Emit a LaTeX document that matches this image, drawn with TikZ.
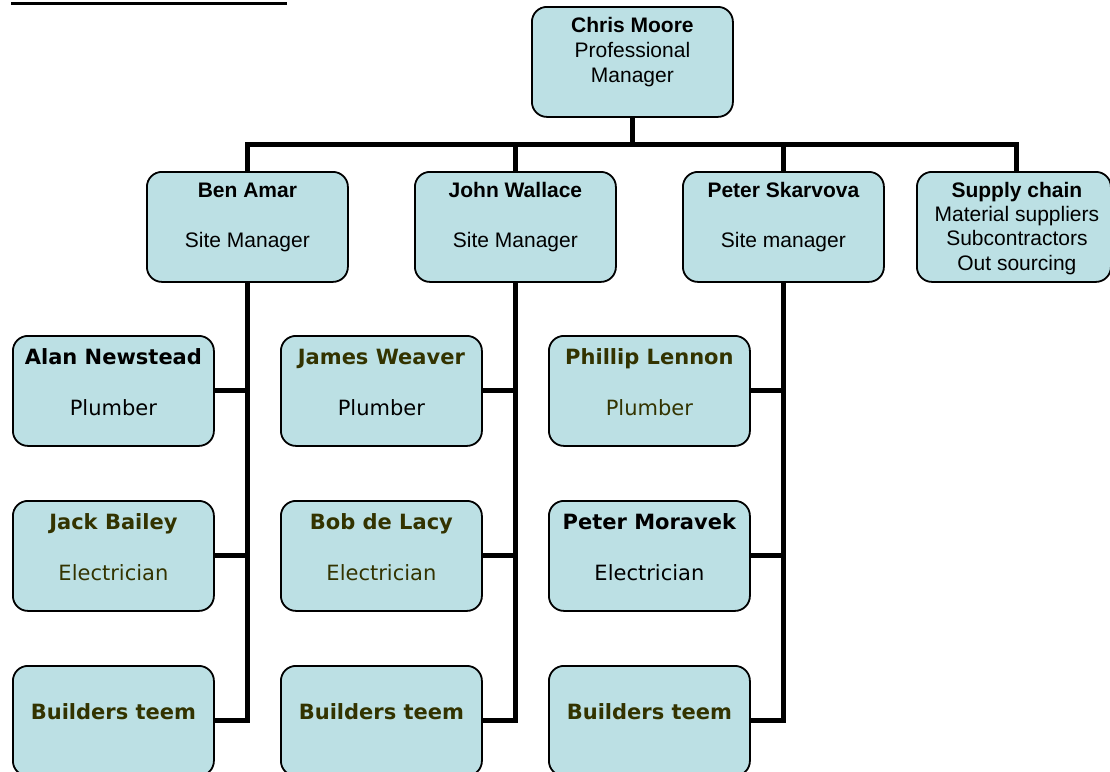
\documentclass[tikz,border=0pt]{standalone}
\usepackage{fontspec}
\newfontfamily\arialf{Liberation Sans}
\newfontfamily\verdf{DejaVu Sans}
\definecolor{boxfill}{RGB}{188,224,228}
\definecolor{oliveT}{RGB}{51,51,0}
\begin{document}
\begin{tikzpicture}[x=1pt,y=-1pt,
  box/.style={draw=black, line width=1.8pt, rounded corners=15pt, fill=boxfill,
    minimum width=201pt, minimum height=110pt, anchor=north west, inner sep=0pt},
  conn/.style={line width=5pt, line join=miter},
  aB/.style={anchor=base, inner sep=0pt, font=\arialf\bfseries\fontsize{21}{25}\selectfont},
  aR/.style={anchor=base, inner sep=0pt, font=\arialf\fontsize{21}{25}\selectfont},
  vB/.style={anchor=base, inner sep=0pt, font=\verdf\bfseries\fontsize{21}{25}\selectfont},
  vR/.style={anchor=base, inner sep=0pt, font=\verdf\fontsize{21}{25}\selectfont},
]
\useasboundingbox (0,0) rectangle (1110,771);
\clip (0,0) rectangle (1110,771);

% underline of cut-off title
\coordinate (ulA) at (11,3);
\coordinate (ulB) at (287,3);
\draw[line width=3pt] (ulA) -- (ulB);

% level 1
\node[box] (chris) at (531,6) {};
\node[aB] (chrisT1) at ([yshift=-26pt]chris.north) {Chris Moore};
\node[aR] (chrisT2) at ([yshift=-51pt]chris.north) {Professional};
\node[aR] (chrisT3) at ([yshift=-76pt]chris.north) {Manager};

% level 2
\node[box] (ben) at (146,171) {};
\node[aB] (benT1) at ([yshift=-26pt]ben.north) {Ben Amar};
\node[aR] (benT2) at ([yshift=-76pt]ben.north) {Site Manager};

\node[box] (john) at (414,171) {};
\node[aB] (johnT1) at ([yshift=-26pt]john.north) {John Wallace};
\node[aR] (johnT2) at ([yshift=-76pt]john.north) {Site Manager};

\node[box] (peter) at (682,171) {};
\node[aB] (peterT1) at ([yshift=-26pt]peter.north) {Peter Skarvova};
\node[aR] (peterT2) at ([yshift=-76pt]peter.north) {Site manager};

\node[box, minimum width=194pt] (supply) at (916,171) {};
\node[aB] (supT1) at ([xshift=3pt,yshift=-26pt]supply.north) {Supply chain};
\node[aR] (supT2) at ([xshift=3pt,yshift=-50pt]supply.north) {Material suppliers};
\node[aR] (supT3) at ([xshift=3pt,yshift=-74pt]supply.north) {Subcontractors};
\node[aR] (supT4) at ([xshift=3pt,yshift=-99pt]supply.north) {Out sourcing};

% level 3, column 1
\node[box] (benA) at (12,335) {};
\node[vB] (benAT1) at ([yshift=-29pt]benA.north) {Alan Newstead};
\node[vR] (benAT2) at ([yshift=-80pt]benA.north) {Plumber};
\node[box] (benB) at (12,500) {};
\node[vB, text=oliveT] (benBT1) at ([yshift=-29pt]benB.north) {Jack Bailey};
\node[vR, text=oliveT] (benBT2) at ([yshift=-80pt]benB.north) {Electrician};
\node[box] (benC) at (12,665) {};
\node[vB, text=oliveT] (benCT1) at ([yshift=-54pt]benC.north) {Builders teem};

% level 3, column 2
\node[box] (johnA) at (280,335) {};
\node[vB, text=oliveT] (johnAT1) at ([yshift=-29pt]johnA.north) {James Weaver};
\node[vR] (johnAT2) at ([yshift=-80pt]johnA.north) {Plumber};
\node[box] (johnB) at (280,500) {};
\node[vB, text=oliveT] (johnBT1) at ([yshift=-29pt]johnB.north) {Bob de Lacy};
\node[vR, text=oliveT] (johnBT2) at ([yshift=-80pt]johnB.north) {Electrician};
\node[box] (johnC) at (280,665) {};
\node[vB, text=oliveT] (johnCT1) at ([yshift=-54pt]johnC.north) {Builders teem};

% level 3, column 3
\node[box] (peterA) at (548,335) {};
\node[vB, text=oliveT] (peterAT1) at ([yshift=-29pt]peterA.north) {Phillip Lennon};
\node[vR, text=oliveT] (peterAT2) at ([yshift=-80pt]peterA.north) {Plumber};
\node[box] (peterB) at (548,500) {};
\node[vB] (peterBT1) at ([yshift=-29pt]peterB.north) {Peter Moravek};
\node[vR] (peterBT2) at ([yshift=-80pt]peterB.north) {Electrician};
\node[box] (peterC) at (548,665) {};
\node[vB, text=oliveT] (peterCT1) at ([yshift=-54pt]peterC.north) {Builders teem};

% connectors
\coordinate (busY) at (0,144);
\coordinate (supTop) at ([xshift=3pt]supply.north);
\draw[conn] (chris.south) -- (chris.south |- busY);
\draw[conn] (ben.north) -- (ben.north |- busY) -- (supTop |- busY) -- (supTop);
\draw[conn] (john.north) -- (john.north |- busY);
\draw[conn] (peter.north) -- (peter.north |- busY);

\draw[conn] (ben.south) |- (benC.east);
\draw[conn] (benA.east) -- (benA.east -| ben.south);
\draw[conn] (benB.east) -- (benB.east -| ben.south);

\draw[conn] (john.south) |- (johnC.east);
\draw[conn] (johnA.east) -- (johnA.east -| john.south);
\draw[conn] (johnB.east) -- (johnB.east -| john.south);

\draw[conn] (peter.south) |- (peterC.east);
\draw[conn] (peterA.east) -- (peterA.east -| peter.south);
\draw[conn] (peterB.east) -- (peterB.east -| peter.south);
\end{tikzpicture}
\end{document}
